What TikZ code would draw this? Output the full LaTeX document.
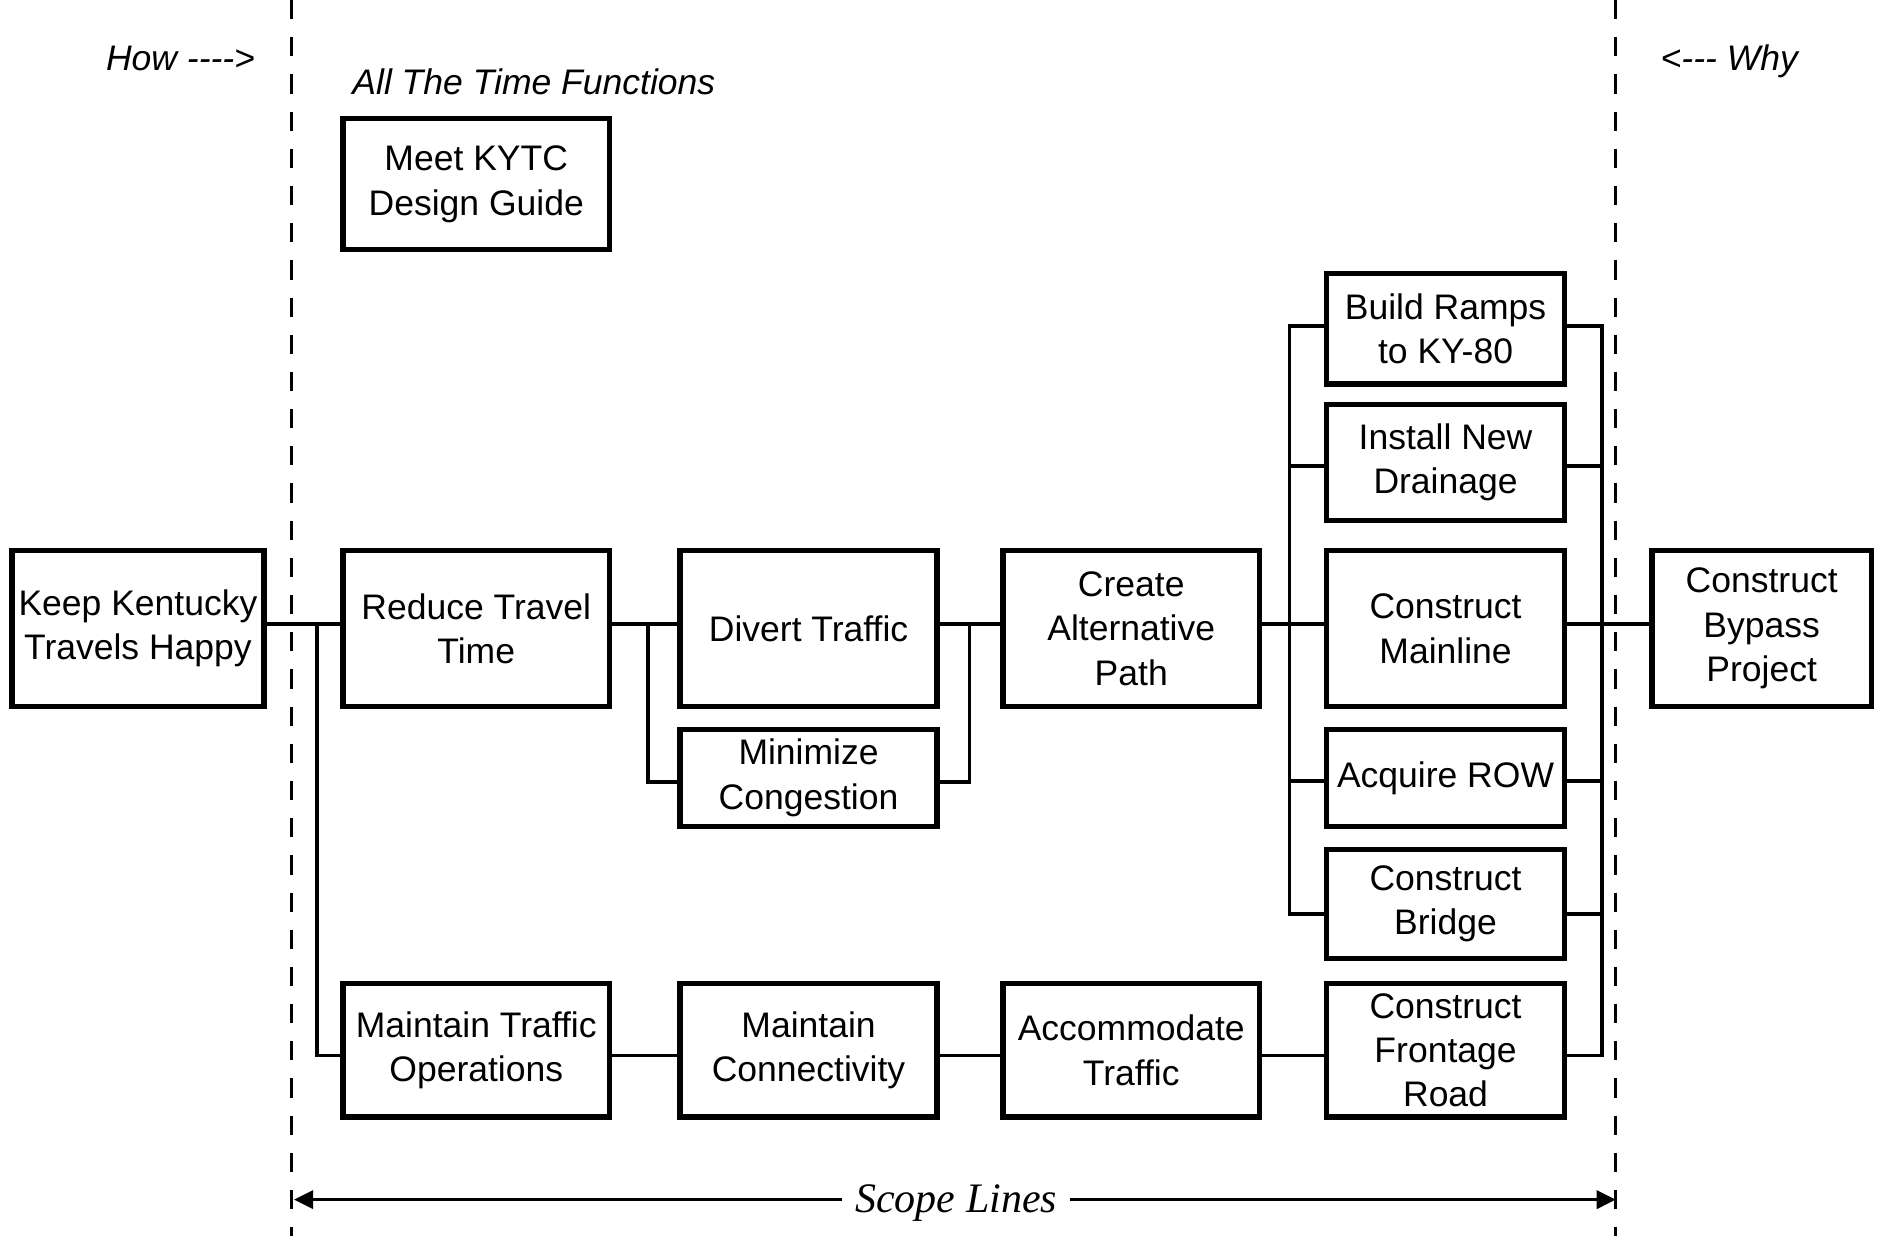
\documentclass[tikz,border=0pt]{standalone}
\usepackage{fontspec}
\setmainfont{Liberation Sans}
\newfontfamily\plainsans{Liberation Sans}[Ligatures=TeXOff]
\newfontfamily\serifit{Liberation Serif}[Ligatures=TeXOff]
\usetikzlibrary{arrows.meta}
\tikzset{
  box/.style={draw, line width=4.5pt, inner sep=0pt, align=center,
    font=\fontsize{29.6}{37}\selectfont},
  wh/.style 2 args={minimum width=#1, minimum height=#2},
  wire/.style={line width=3pt},
  scopeline/.style={line width=2.4pt, dash pattern=on 16pt off 15pt},
  note/.style={inner sep=0pt, anchor=base, font=\plainsans\itshape\fontsize{29.6}{37}\selectfont},
}
\begin{document}
\begin{tikzpicture}[x=1pt,y=-1pt]
\useasboundingbox (0,0) rectangle (1568,1030);

% scope lines
\coordinate (dlt) at (243,0);
\coordinate (dlb) at (243,1030);
\coordinate (drt) at (1347,0);
\coordinate (drb) at (1347,1030);
\draw[scopeline] (dlt) -- (dlb);
\draw[scopeline] (drt) -- (drb);

% texts
\node[note] (how) at (150.5,58.5) {How ---->};
\node[note] (why) at (1441.5,58.5) {<--- Why};
\node[note] (att) at (445,78.5) {All The Time Functions};

% boxes
\node[box, wh={210pt}{130pt}] (keep) at (115,524) {Keep Kentucky\\Travels Happy};
\node[box, wh={222pt}{130pt}] (reduce) at (397,524) {Reduce Travel\\Time};
\node[box, wh={214pt}{130pt}] (divert) at (674,524) {Divert Traffic};
\node[box, wh={214pt}{130pt}] (create) at (943,524) {Create\\Alternative\\Path};
\node[box, wh={198pt}{130pt}] (mainline) at (1205,524) {Construct\\Mainline};
\node[box, wh={183pt}{130pt}] (bypass) at (1468.5,524) {Construct\\Bypass\\Project};
\node[box, wh={222pt}{109pt}] (meet) at (397,153.5) {Meet KYTC\\Design Guide};
\node[box, wh={198pt}{92pt}] (ramps) at (1205,274) {Build Ramps\\to KY-80};
\node[box, wh={198pt}{97pt}] (drain) at (1205,385.5) {Install New\\Drainage};
\node[box, wh={198pt}{81pt}] (row) at (1205,648.5) {Acquire ROW};
\node[box, wh={198pt}{91pt}] (bridge) at (1205,753.5) {Construct\\Bridge};
\node[box, wh={198pt}{111pt}] (frontage) at (1205,875.5) {Construct\\Frontage\\Road};
\node[box, wh={214pt}{81pt}] (minimize) at (674,648.5) {Minimize\\Congestion};
\node[box, wh={222pt}{111pt}] (mto) at (397,875.5) {Maintain Traffic\\Operations};
\node[box, wh={214pt}{111pt}] (conn) at (674,875.5) {Maintain\\Connectivity};
\node[box, wh={214pt}{111pt}] (accom) at (943,875.5) {Accommodate\\Traffic};

% connectors, main row
\draw[wire] ([yshift=4pt]keep.east) -- ([yshift=4pt]reduce.west);
\coordinate (j1) at (264,520);
\draw[wire] (j1) |- ([yshift=-4.5pt]mto.west);
\draw[wire] ([yshift=4pt]reduce.east) -- ([yshift=4pt]divert.west);
\coordinate (j2) at (540,520);
\draw[wire] (j2) |- ([yshift=-3.5pt]minimize.west);
\draw[wire] ([yshift=4pt]divert.east) -- ([yshift=4pt]create.west);
\coordinate (j3) at (808,520);
\draw[wire] ([yshift=-3.5pt]minimize.east) -| (j3);
\draw[wire] ([yshift=4pt]create.east) -- ([yshift=4pt]mainline.west);
\draw[wire] ([yshift=4pt]mainline.east) -- ([yshift=4pt]bypass.west);

% left bus
\draw[wire] ([yshift=2pt]ramps.west) -- ++(-29,0) |- ([yshift=-8.5pt]bridge.west);
\draw[wire] ([yshift=-3pt]drain.west) -- ++(-29,0);
\draw[wire] ([yshift=-2.5pt]row.west) -- ++(-29,0);

% right bus
\draw[wire] ([yshift=2pt]ramps.east) -- ++(29,0) |- ([yshift=-4.5pt]frontage.east);
\draw[wire] ([yshift=-3pt]drain.east) -- ++(29,0);
\draw[wire] ([yshift=-2.5pt]row.east) -- ++(29,0);
\draw[wire] ([yshift=-8.5pt]bridge.east) -- ++(29,0);

% bottom row
\draw[wire] ([yshift=-4.5pt]mto.east) -- ([yshift=-4.5pt]conn.west);
\draw[wire] ([yshift=-4.5pt]conn.east) -- ([yshift=-4.5pt]accom.west);
\draw[wire] ([yshift=-4.5pt]accom.east) -- ([yshift=-4.5pt]frontage.west);

% scope arrow
\coordinate (sl) at (245,1000);
\coordinate (sr) at (1347,1000);
\draw[wire, {Triangle[length=16pt,width=15pt]}-{Triangle[length=16pt,width=15pt]}] (sl) -- (sr);
\node[fill=white, inner xsep=11pt, inner ysep=2pt, anchor=base, font=\serifit\itshape\fontsize{35}{40}\selectfont] (scope) at (797,1011) {Scope Lines};
\end{tikzpicture}
\end{document}
